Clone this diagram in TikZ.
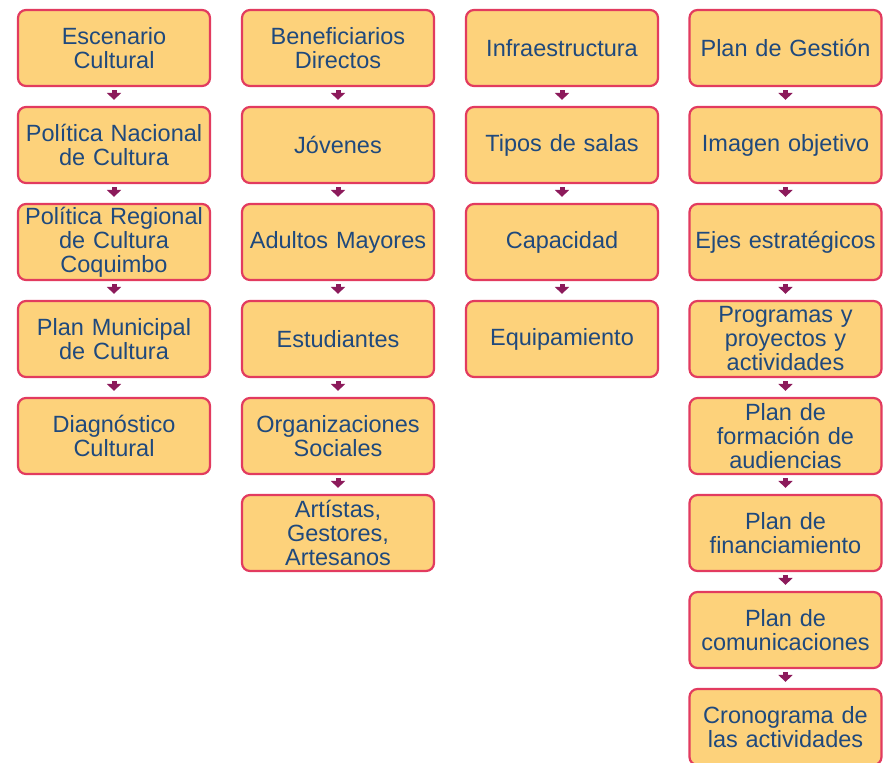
\documentclass[tikz,border=0pt]{standalone}
\usepackage{fontspec}
\setmainfont{Liberation Sans}
\usetikzlibrary{arrows.meta}
\definecolor{cajafondo}{HTML}{FDD27B}
\definecolor{cajaborde}{HTML}{E23B5F}
\definecolor{cajatexto}{HTML}{1F497D}
\definecolor{flechacol}{HTML}{8C1A5B}

\begin{document}
\begin{tikzpicture}[x=1pt,y=-1pt,>={Triangle[width=14pt,length=7pt]},
  caja/.style={draw=cajaborde,fill=cajafondo,line width=2.2pt,rounded corners=8pt,
    minimum width=192pt,minimum height=76pt,text width=190pt,align=center,inner sep=0pt,
    text=cajatexto,font=\fontsize{23.5}{24}\selectfont},
  flecha/.style={->,draw=flechacol,fill=flechacol,line width=5pt,shorten <=3pt,shorten >=6pt}]
\useasboundingbox (0,0) rectangle (889,763);

\node[caja](e1) at (114,48) {Escenario\\Cultural};
\node[caja](e2) at (114,145) {Política Nacional\\de Cultura};
\node[caja](e3) at (114,242) {Política Regional\\de Cultura\\Coquimbo};
\node[caja](e4) at (114,339) {Plan Municipal\\de Cultura};
\node[caja](e5) at (114,436) {Diagnóstico\\Cultural};

\node[caja](b1) at (338,48) {Beneficiarios\\Directos};
\node[caja](b2) at (338,145) {Jóvenes};
\node[caja](b3) at (338,242) {Adultos Mayores};
\node[caja](b4) at (338,339) {Estudiantes};
\node[caja](b5) at (338,436) {Organizaciones\\Sociales};
\node[caja](b6) at (338,533) {Artístas,\\Gestores,\\Artesanos};

\node[caja](i1) at (562,48) {Infraestructura};
\node[caja](i2) at (562,145) {Tipos de salas};
\node[caja](i3) at (562,242) {Capacidad};
\node[caja](i4) at (562,339) {Equipamiento};

\node[caja](g1) at (785.5,48) {Plan de Gestión};
\node[caja](g2) at (785.5,145) {Imagen objetivo};
\node[caja](g3) at (785.5,242) {Ejes estratégicos};
\node[caja](g4) at (785.5,339) {Programas y\\proyectos y\\actividades};
\node[caja](g5) at (785.5,436) {Plan de\\formación de\\audiencias};
\node[caja](g6) at (785.5,533) {Plan de\\financiamiento};
\node[caja](g7) at (785.5,630) {Plan de\\comunicaciones};
\node[caja](g8) at (785.5,727) {Cronograma de\\las actividades};

\draw[flecha] (e1) -- (e2);
\draw[flecha] (e2) -- (e3);
\draw[flecha] (e3) -- (e4);
\draw[flecha] (e4) -- (e5);

\draw[flecha] (b1) -- (b2);
\draw[flecha] (b2) -- (b3);
\draw[flecha] (b3) -- (b4);
\draw[flecha] (b4) -- (b5);
\draw[flecha] (b5) -- (b6);

\draw[flecha] (i1) -- (i2);
\draw[flecha] (i2) -- (i3);
\draw[flecha] (i3) -- (i4);

\draw[flecha] (g1) -- (g2);
\draw[flecha] (g2) -- (g3);
\draw[flecha] (g3) -- (g4);
\draw[flecha] (g4) -- (g5);
\draw[flecha] (g5) -- (g6);
\draw[flecha] (g6) -- (g7);
\draw[flecha] (g7) -- (g8);
\end{tikzpicture}
\end{document}
